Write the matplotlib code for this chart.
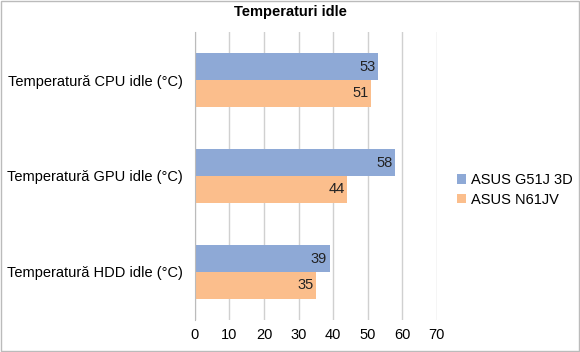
import matplotlib.pyplot as plt
import numpy as np

plt.rcParams['font.family'] = ['Liberation Sans', 'DejaVu Sans']

categories = ['Temperatură CPU idle (°C)', 'Temperatură GPU idle (°C)', 'Temperatură HDD idle (°C)']
g51j = [53, 58, 39]
n61jv = [51, 44, 35]
series_names = ['ASUS G51J 3D', 'ASUS N61JV']
ticks = [0, 10, 20, 30, 40, 50, 60, 70]

blue = '#8EA9D6'
orange = '#FBBE8C'

fig = plt.figure(figsize=(5.8, 3.52), dpi=100)
ax = fig.add_axes([0.336, 0.091, 0.417, 0.818])

y = np.arange(len(categories))
h = 0.28
b1 = ax.barh(y - h / 2, g51j, height=h, color=blue, label=series_names[0])
b2 = ax.barh(y + h / 2, n61jv, height=h, color=orange, label=series_names[1])

for bars in (b1, b2):
    for r in bars:
        ax.text(r.get_width() - 0.7, r.get_y() + r.get_height() / 2, str(int(r.get_width())),
                ha='right', va='center', fontsize=10.5, color='#222222')

ax.set_xlim(0, 70)
ax.set_ylim(2.5, -0.5)
ax.set_xticks(ticks)
ax.set_yticks(y)
ax.set_yticklabels(categories, fontsize=10.5)
ax.tick_params(axis='x', labelsize=10.5, length=0, pad=6)
ax.tick_params(axis='y', length=0, pad=9)
ax.xaxis.grid(True, color='#D0D0D0', linewidth=1)
ax.set_axisbelow(True)
for s in ['top', 'right', 'bottom']:
    ax.spines[s].set_visible(False)
ax.spines['left'].set_color('#BBBBBB')

fig.text(0.5, 0.965, 'Temperaturi idle', ha='center', va='center', fontsize=10.5, fontweight='bold')

fig.legend(handles=[b1, b2], loc='center left', bbox_to_anchor=(0.765, 0.46), frameon=False,
           fontsize=10.5, handlelength=0.6, handleheight=0.6, handletextpad=0.4, labelspacing=0.4)

border = plt.Rectangle((0.001, 0.002), 0.997, 0.995, transform=fig.transFigure, fill=False,
                       edgecolor='#BBBBBB', linewidth=1)
fig.patches.append(border)

fig.savefig('out.png', dpi=100)
